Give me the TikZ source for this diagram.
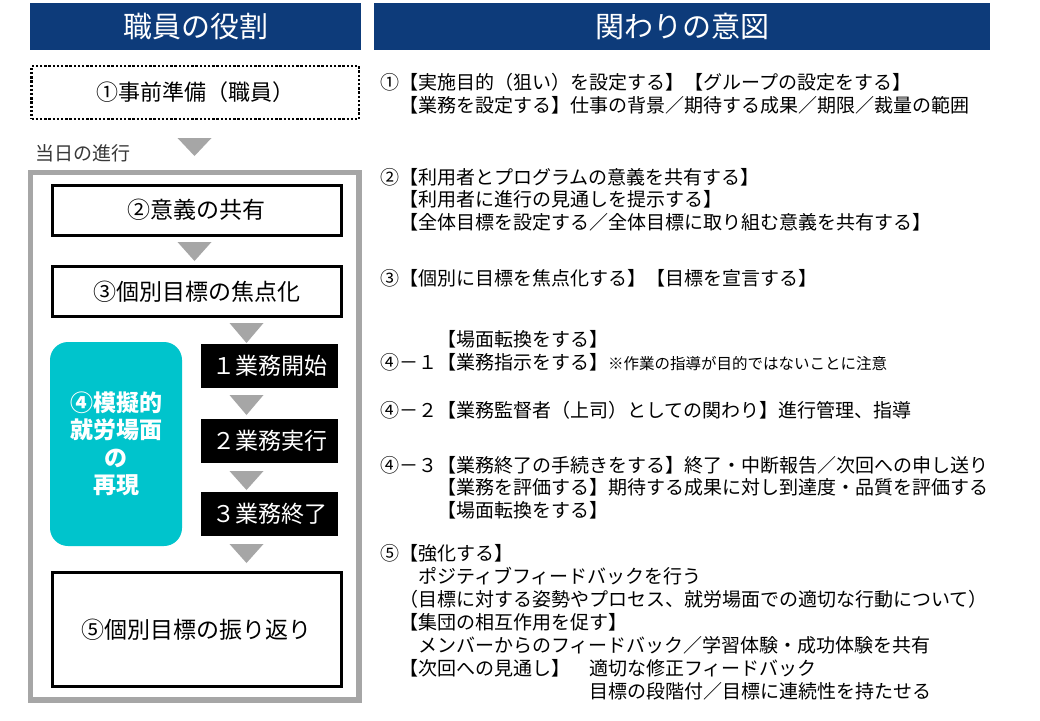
\documentclass[tikz,border=0pt]{standalone}
\usepackage{fontspec}
\setmainfont{Noto Sans CJK JP}
\definecolor{navy}{RGB}{13,59,122}
\definecolor{tealbox}{RGB}{0,196,204}
\definecolor{tgray}{RGB}{166,166,166}
\newcommand\dtri[3]{\fill[tgray] (#1-17,#2) -- (#1+17,#2) -- (#1,#3) -- cycle;}
\begin{document}
\begin{tikzpicture}[x=1pt,y=-1pt,
  hdr/.style={fill=navy, text=white, minimum height=47pt, inner sep=0pt, font=\fontsize{29}{30}\selectfont},
  wbox/.style={draw=black, line width=3pt, fill=white, inner sep=0pt, minimum width=289.5pt, font=\fontsize{23}{26}\selectfont},
  kbox/.style={fill=black, text=white, inner sep=0pt, minimum width=137pt, minimum height=44pt, font=\fontsize{23}{26}\selectfont},
  rt/.style={anchor=base west, inner sep=0pt, font=\fontsize{19}{21}\selectfont},
]
\useasboundingbox[fill=white] (0,0) rectangle (1040,720);

% headers
\node[hdr, minimum width=331pt] (h1) at (195.5,26.5) {職員の役割};
\node[hdr, minimum width=616pt] (h2) at (682,26.5) {関わりの意図};

% step 1 (dotted)
\node[draw=black, line width=2.6pt, dash pattern=on 2.4pt off 1.8pt, inner sep=0pt,
      minimum width=327.5pt, minimum height=53pt, font=\fontsize{22}{24}\selectfont] (b1) at (195.25,92.5) {①事前準備（職員）};

\node[inner sep=0pt, text=black!78, font=\fontsize{19}{21}\selectfont] (day) at (82.5,153) {当日の進行};

% gray frame
\draw[tgray, line width=5.5pt] (30.5,172.5) rectangle (359,700);

% boxes
\node[wbox, minimum height=50.5pt] (b2) at (196.75,210.25) {②意義の共有};
\node[wbox, minimum height=50pt] (b3) at (196.75,291.5) {③個別目標の焦点化};
\node[fill=tealbox, rounded corners=18pt, inner sep=0pt, minimum width=132pt, minimum height=204pt,
      text=white, align=center, font=\bfseries\fontsize{23}{27.5}\selectfont] (b4) at (116,444)
      {④模擬的\\就労場面\\の\\再現};
\node[kbox] (k1) at (269.5,366) {１業務開始};
\node[kbox] (k2) at (269.5,441) {２業務実行};
\node[kbox] (k3) at (269.5,514) {３業務終了};
\node[wbox, minimum height=114.5pt] (b5) at (196.75,629.25) {⑤個別目標の振り返り};

% arrows (triangles)
\dtri{194.5}{138}{156}
\dtri{194.5}{242}{261}
\dtri{246.5}{323}{343}
\dtri{246.5}{395}{415}
\dtri{246.5}{471}{490}
\dtri{246.5}{544}{563}

% right column
\node[rt] (t1a) at (380,89) {①【実施目的（狙い）を設定する】【グループの設定をする】};
\node[rt] (t1b) at (399,112) {【業務を設定する】仕事の背景／期待する成果／期限／裁量の範囲};
\node[rt] (t2a) at (380,184) {②【利用者とプログラムの意義を共有する】};
\node[rt] (t2b) at (399,206.5) {【利用者に進行の見通しを提示する】};
\node[rt] (t2c) at (399,229) {【全体目標を設定する／全体目標に取り組む意義を共有する】};
\node[rt] (t3) at (380,285) {③【個別に目標を焦点化する】【目標を宣言する】};
\node[rt] (t40) at (437,346) {【場面転換をする】};
\node[rt] (t41) at (380,369) {④－１【業務指示をする】{\fontsize{15.5}{17}\selectfont ※作業の指導が目的ではないことに注意}};
\node[rt] (t42) at (380,417) {④－２【業務監督者（上司）としての関わり】進行管理、指導};
\node[rt] (t43a) at (380,472) {④－３【業務終了の手続きをする】終了・中断報告／次回への申し送り};
\node[rt] (t43b) at (437,494.5) {【業務を評価する】期待する成果に対し到達度・品質を評価する};
\node[rt] (t43c) at (437,517) {【場面転換をする】};
\node[rt] (t5a) at (380,560) {⑤【強化する】};
\node[rt] (t5b) at (418,583) {ポジティブフィードバックを行う};
\node[rt] (t5c) at (399,606) {（目標に対する姿勢やプロセス、就労場面での適切な行動について）};
\node[rt] (t5d) at (399,629) {【集団の相互作用を促す】};
\node[rt] (t5e) at (418,652) {メンバーからのフィードバック／学習体験・成功体験を共有};
\node[rt] (t5f) at (399,675) {【次回への見通し】};
\node[rt] (t5g) at (589,675) {適切な修正フィードバック};
\node[rt] (t5h) at (589,698) {目標の段階付／目標に連続性を持たせる};
\end{tikzpicture}
\end{document}
